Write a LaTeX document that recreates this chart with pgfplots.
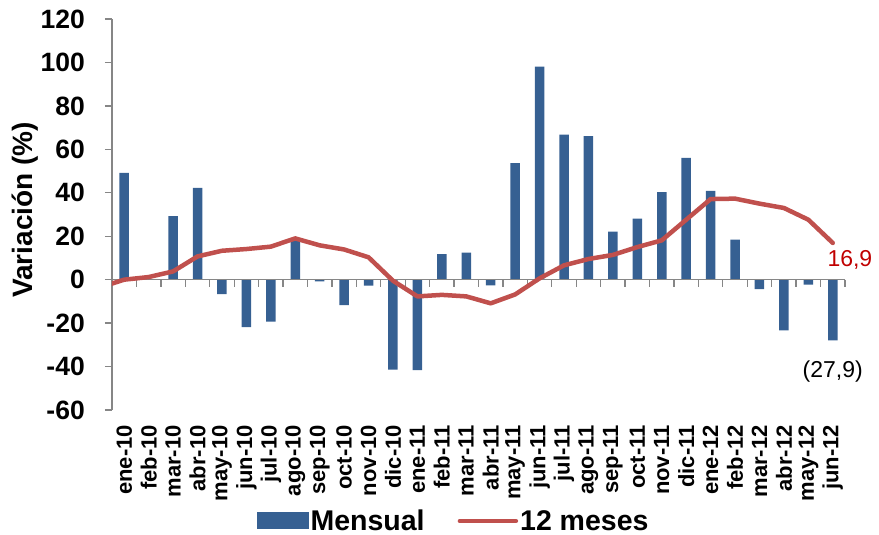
\documentclass[border=0pt]{standalone}
\usepackage{fontspec}
\setmainfont{Liberation Sans}
\usepackage{pgfplots}
\usepackage{pgfplotstable}
\pgfplotsset{compat=1.18}
\definecolor{barblue}{RGB}{54,96,146}
\definecolor{linered}{RGB}{192,80,77}
\definecolor{axgray}{RGB}{134,134,134}
\definecolor{annred}{RGB}{192,0,0}

\pgfplotstableread{
x m
0 49.2
1 0.3
2 29.3
3 42.3
4 -6.6
5 -21.8
6 -19.3
7 18.4
8 -0.8
9 -11.7
10 -2.8
11 -41.4
12 -41.7
13 11.8
14 12.4
15 -2.6
16 53.7
17 98.1
18 66.8
19 66.1
20 22.1
21 28.1
22 40.3
23 56.1
24 40.9
25 18.4
26 -4.3
27 -23.3
28 -2.3
29 -27.9
}\mensual

\pgfplotstableread{
x v
-1 -3.6
0 0.0
1 1.2
2 3.8
3 10.7
4 13.3
5 14.1
6 15.2
7 19.0
8 15.8
9 13.9
10 10.3
11 -0.5
12 -7.7
13 -7.0
14 -7.7
15 -10.9
16 -6.8
17 0.6
18 6.6
19 9.5
20 11.4
21 15.0
22 18.1
23 27.6
24 37.1
25 37.3
26 35.0
27 33.0
28 27.6
29 16.9
}\doce

\begin{document}
\begin{tikzpicture}
\useasboundingbox (-112pt,-125pt) rectangle (767pt,410pt);
\begin{axis}[
  scale only axis, width=733pt, height=391pt,
  xmin=-0.5, xmax=29.5, ymin=-60, ymax=120,
  axis y line*=left, axis x line*=bottom,
  x axis line style={draw=none},
  y axis line style={draw=axgray, line width=1.3pt},
  ytick={-60,-40,...,120},
  yticklabels={-60,-40,-20,0,20,40,60,80,100,120},
  ytick style={draw=axgray, line width=1.3pt},
  tick align=outside, major tick length=7pt,
  xtick={0,...,29},
  xticklabels={ene-10,feb-10,mar-10,abr-10,may-10,jun-10,jul-10,ago-10,sep-10,oct-10,nov-10,dic-10,ene-11,feb-11,mar-11,abr-11,may-11,jun-11,jul-11,ago-11,sep-11,oct-11,nov-11,dic-11,ene-12,feb-12,mar-12,abr-12,may-12,jun-12},
  xtick style={draw=none},
  yticklabel style={font=\fontsize{26.5}{30}\selectfont\bfseries, inner sep=0pt, anchor=east, xshift=-20pt},
  xticklabel style={font=\fontsize{22}{26}\selectfont\bfseries, rotate=90, anchor=east, inner sep=0pt, xshift=-8pt},
  clip mode=individual,
  legend columns=2,
  legend style={draw=none, fill=none, at={(0.466,-0.284)}, anchor=center,
    font=\fontsize{28.5}{32}\selectfont\bfseries,
    /tikz/every even column/.append style={column sep=31pt}},
]
\addplot[ybar, bar width=9.5pt, fill=barblue, draw=none,
  legend image code/.code={\fill[barblue] (0pt,-8pt) rectangle (52pt,9pt);}]
  table[x=x,y=m]{\mensual};
\addlegendentry{Mensual}
\draw[axgray, line width=1.3pt] (axis cs:-0.5,0) -- (axis cs:29.5,0);
\pgfplotsinvokeforeach{-0.5,0.5,...,29.5}{\draw[axgray, line width=1.3pt] (axis cs:#1,0) -- ++(0pt,-7pt);}
\addplot[linered, line width=4.5pt, line join=round, line cap=round, mark=none,
  legend image code/.code={\draw[linered, line width=4.5pt, line cap=round] (0pt,0pt) -- (56pt,0pt);}]
  table[x=x,y=v]{\doce};
\addlegendentry{12 meses}
\node[text=annred, font=\fontsize{23}{27}\selectfont] at (axis cs:29.7,9.2) {16,9};
\node[font=\fontsize{23}{27}\selectfont] at (axis cs:29.0,-42.2) {(27,9)};
\end{axis}
\node[rotate=90, font=\fontsize{28}{32}\selectfont\bfseries] at (-87pt,200pt) {Variación (\%)};
\end{tikzpicture}
\end{document}
